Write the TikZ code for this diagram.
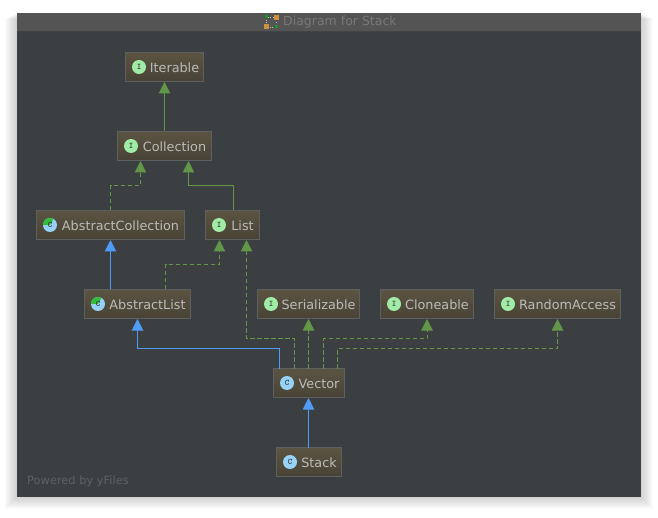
\documentclass[tikz,border=0pt]{standalone}
\usepackage{fontspec}
\setmainfont{DejaVu Sans}
\usetikzlibrary{positioning,arrows.meta}
\definecolor{r60g63b66}{RGB}{60,63,66}
\definecolor{r86g86b86}{RGB}{84,84,84}
\definecolor{r66g67b68}{RGB}{66,67,68}
\definecolor{r94g95b96}{RGB}{94,95,96}
\definecolor{r120g120b120}{RGB}{120,120,120}
\definecolor{r92g84b66}{RGB}{92,84,66}
\definecolor{r72g67b54}{RGB}{72,67,54}
\definecolor{r187g187b187}{RGB}{187,187,187}
\definecolor{r98g150b72}{RGB}{98,150,72}
\definecolor{r76g150b240}{RGB}{80,155,245}
\definecolor{r160g235b165}{RGB}{160,235,165}
\definecolor{r150g210b245}{RGB}{150,210,245}
\definecolor{r48g190b60}{RGB}{48,190,60}
\definecolor{r205g145b60}{RGB}{205,145,60}
\definecolor{r20g150b40}{RGB}{20,150,40}
\tikzset{
  classbox/.style={draw=r94g95b96, line width=1pt, top color=r92g84b66, bottom color=r72g67b54,
    anchor=north west, outer sep=0pt, minimum height=29pt, inner sep=0pt, text height=11pt, text depth=0pt,
    text=r187g187b187, font=\fontsize{12.8}{14}\selectfont},
  iconbase/.style={circle, inner sep=0pt, outer sep=0pt, minimum size=14pt, text=black!80, font=\fontsize{8.5}{9}\ttfamily\bfseries},
  ifaceicon/.style={iconbase, fill=r160g235b165},
  classicon/.style={iconbase, fill=r150g210b245},
  generalizes/.style={line width=1pt, r76g150b240, shorten >=0.5pt, -{Triangle[length=11.5pt,width=11.5pt]}},
  realizes/.style={line width=1pt, r98g150b72, shorten >=0.5pt, dash pattern=on 4.5pt off 2.5pt, -{Triangle[length=11.5pt,width=11.5pt]}},
  extendsiface/.style={line width=1pt, r98g150b72, shorten >=0.5pt, -{Triangle[length=11.5pt,width=11.5pt]}},
}
\begin{document}
\begin{tikzpicture}[x=1pt,y=-1pt]
\useasboundingbox (0,0) rectangle (658,518);

% Drawing window shadow
\foreach \s in {1,...,12}
  \fill [black, opacity=0.015] (17-\s,13+0.5*\s) rectangle (641+\s,497+\s);

% Drawing window and title bar
\fill [r60g63b66] (17,13) rectangle (641,497);
\fill [r86g86b86] (17,13) rectangle (641,31);
\draw [r66g67b68, line width=1pt] (17,31.5) -- (641,31.5);
\node (title) [text=r120g120b120, font=\fontsize{12.5}{14}\selectfont, anchor=west] at (279.7,22.5) {Diagram for Stack};
\node (powered) [text=r94g95b96, font=\fontsize{11.4}{13}\selectfont, anchor=west] at (23.7,481) {Powered by yFiles};

% Drawing title icon
\draw [black!25, dotted, line width=0.7pt] (266,17) rectangle (276,27);
\fill [r20g150b40] (264.5,15.5) rectangle (267.5,18.5);
\fill [r20g150b40] (275,25.5) rectangle (278,28.5);
\fill [r205g145b60] (273.5,15) rectangle (278.5,20);
\fill [r205g145b60] (264,24) rectangle (269,29);

% Drawing nodes
\node (iterable) [classbox, minimum width=78pt] at (125.5,52.5) {\hspace*{20pt}Iterable};
\node (collection) [classbox, minimum width=94pt] at (117.5,131.5) {\hspace*{20pt}Collection};
\node (abstractcollection) [classbox, minimum width=148pt] at (36.5,210.5) {\hspace*{20pt}AbstractCollection};
\node (list) [classbox, minimum width=54pt] at (205.5,210.5) {\hspace*{20pt}List};
\node (abstractlist) [classbox, minimum width=106pt] at (84.5,289.5) {\hspace*{20pt}AbstractList};
\node (serializable) [classbox, minimum width=102pt] at (257.5,289.5) {\hspace*{20pt}Serializable};
\node (cloneable) [classbox, minimum width=93pt] at (380.5,289.5) {\hspace*{20pt}Cloneable};
\node (randomaccess) [classbox, minimum width=126pt] at (494.5,289.5) {\hspace*{20pt}RandomAccess};
\node (vector) [classbox, minimum width=71pt] at (273.5,368.5) {\hspace*{20pt}Vector};
\node (stack) [classbox, minimum width=65pt] at (276.5,447.5) {\hspace*{20pt}Stack};

% Drawing icons
\foreach \n in {iterable,collection,list,serializable,cloneable,randomaccess}
  \node (\n icon) [ifaceicon, right=6.5pt of \n.west] {I};
\foreach \n in {vector,stack}
  \node (\n icon) [classicon, right=6.5pt of \n.west] {C};
\foreach \n in {abstractcollection,abstractlist} {
  \node (\n icon) [classicon, right=6.5pt of \n.west] {};
  \fill [r48g190b60] (\n icon.center) -- (\n icon.west) arc (180:60:7pt) -- cycle;
  \node (\n letter) [iconbase, at=(\n icon.center)] {C};
}

% Drawing arrow collection iterable
\draw [extendsiface] (collection.north) -- (iterable.south);

% Drawing arrow abstractcollection collection
\draw [realizes] (abstractcollection.north) -- ++(0,-25) -| ([xshift=-24pt]collection.south);

% Drawing arrow list collection
\draw [extendsiface] ([xshift=1pt]list.north) -- ++(0,-25) -| ([xshift=24pt]collection.south);

% Drawing arrow abstractlist abstractcollection
\draw [generalizes] ([xshift=-27pt]abstractlist.north) -- (abstractcollection.south);

% Drawing arrow abstractlist list
\draw [realizes] ([xshift=28pt]abstractlist.north) -- ++(0,-25) -| ([xshift=-13pt]list.south);

% Drawing arrow vector list
\draw [realizes] ([xshift=-14.5pt]vector.north) -- ++(0,-30) -| ([xshift=14pt]list.south);

% Drawing arrow vector abstractlist
\draw [generalizes] ([xshift=-29.5pt]vector.north) -- ++(0,-20) -| (abstractlist.south);

% Drawing arrow vector serializable
\draw [realizes] ([xshift=-0.5pt]vector.north) -- (serializable.south);

% Drawing arrow vector cloneable
\draw [realizes] ([xshift=14.5pt]vector.north) -- ++(0,-30) -| (cloneable.south);

% Drawing arrow vector randomaccess
\draw [realizes] ([xshift=28.5pt]vector.north) -- ++(0,-20) -| (randomaccess.south);

% Drawing arrow stack vector
\draw [generalizes] ([xshift=-0.5pt]stack.north) -- ([xshift=-0.5pt]vector.south);
\end{tikzpicture}
\end{document}
